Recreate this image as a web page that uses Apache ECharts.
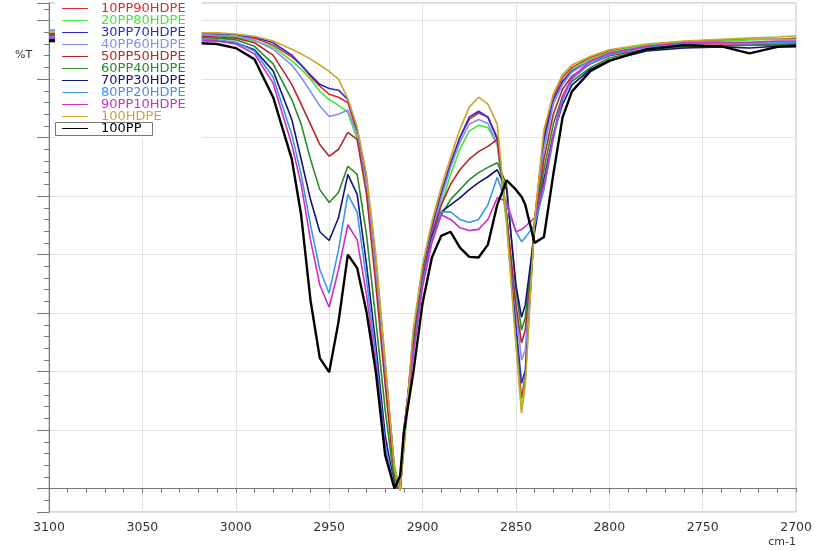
<!DOCTYPE html>
<html>
<head>
    <meta charset="utf-8" />
    <script src="https://cdn.jsdelivr.net/npm/echarts@6/dist/echarts.min.js"></script>
    <style>
        html, body { margin: 0; padding: 0; background: #fff; }
        #main { width: 815px; height: 551px; }
    </style>
</head>
<body>
<div id="main"></div>
<script>
    // wavenumber grid (cm-1) shared by every spectrum
    let wavenumbers = [3100, 3060, 3030, 3010, 3000, 2990, 2980, 2970, 2965, 2960, 2955, 2950, 2945, 2940, 2935, 2930,
        2925, 2920, 2915, 2912, 2910, 2905, 2900, 2895, 2890, 2885, 2880, 2875, 2870, 2865, 2860, 2855,
        2850, 2847, 2845, 2840, 2835, 2830, 2825, 2820, 2810, 2800, 2780, 2760, 2740, 2725, 2710, 2700]

    let names = ['10PP90HDPE', '20PP80HDPE', '30PP70HDPE', '40PP60HDPE', '50PP50HDPE', '60PP40HDPE',
        '70PP30HDPE', '80PP20HDPE', '90PP10HDPE', '100HDPE', '100PP']
    let colors = ['#e8262a', '#3ee83a', '#2a2ad0', '#8c8cf0', '#b42828', '#2a8a2a',
        '#141478', '#3a96f0', '#d02cc8', '#c8a82a', '#000000']

    // %T values
    let pp10 = [78.0, 77.9, 77.9, 77.7, 77.5, 77.0, 75.8, 73.8, 72.4, 70.5, 68.8, 67.4, 66.9, 66.0, 60.9, 52.5,
        38.8, 21.1, 3.1, -0.2, 7.4, 26.6, 37.4, 44.6, 50.6, 55.7, 60.0, 63.1, 64.2, 63.5, 60.0, 46.0,
        26.2, 15.4, 19.4, 46.0, 60.5, 67.1, 70.3, 72.0, 73.7, 74.8, 75.8, 76.4, 76.7, 76.8, 76.8, 77.0]
    let pp20 = [77.9, 77.7, 77.5, 77.4, 77.2, 76.5, 75.5, 73.1, 71.7, 70.0, 67.9, 66.5, 65.5, 64.3, 59.7, 52.0,
        37.4, 20.2, 3.9, -0.3, 6.5, 24.5, 35.7, 42.5, 48.5, 53.7, 58.0, 61.1, 62.1, 61.7, 58.8, 45.1,
        25.4, 13.4, 18.5, 45.1, 58.8, 66.5, 69.6, 71.7, 73.4, 74.6, 75.8, 76.3, 76.5, 76.7, 76.8, 76.8]
    let pp30 = [77.7, 77.7, 77.7, 77.7, 77.5, 77.2, 76.2, 74.1, 72.4, 70.7, 69.1, 68.4, 68.1, 66.5, 61.4, 52.8,
        38.8, 21.1, 2.7, -0.2, 7.4, 26.2, 37.0, 44.3, 50.3, 55.4, 60.0, 63.5, 64.5, 63.5, 59.7, 46.8,
        28.0, 18.0, 20.2, 45.6, 59.7, 66.5, 69.6, 71.4, 73.1, 74.3, 75.5, 76.0, 76.2, 76.2, 76.3, 76.3]
    let pp40 = [78.4, 78.0, 77.7, 77.5, 77.4, 76.7, 75.1, 72.4, 70.3, 67.9, 65.4, 63.6, 64.0, 64.7, 60.5, 52.0,
        37.7, 20.2, 2.2, -0.2, 7.4, 25.7, 36.5, 43.7, 49.7, 54.9, 59.2, 62.3, 63.1, 62.4, 58.8, 46.3,
        30.5, 22.0, 23.7, 45.5, 58.0, 65.7, 69.1, 71.2, 73.1, 74.3, 75.5, 76.0, 76.2, 76.2, 76.3, 76.3]
    let pp50 = [77.5, 77.5, 77.4, 77.2, 77.0, 76.2, 74.1, 69.1, 65.7, 62.3, 58.8, 56.8, 58.0, 60.9, 59.7, 50.3,
        34.8, 17.7, 1.7, 0.0, 8.2, 25.4, 36.0, 43.4, 48.5, 52.0, 54.5, 56.3, 57.6, 58.5, 59.7, 46.8,
        31.4, 24.9, 27.1, 45.1, 56.3, 64.0, 68.3, 70.5, 72.6, 74.0, 75.1, 75.6, 75.8, 75.8, 76.0, 76.0]
    let pp60 = [77.4, 77.4, 77.2, 77.0, 76.7, 75.6, 72.6, 66.5, 62.3, 56.3, 51.1, 48.9, 50.6, 55.1, 53.7, 43.4,
        28.8, 13.4, 1.0, 0.0, 9.1, 24.5, 35.3, 42.5, 46.8, 49.4, 51.1, 52.8, 54.0, 54.9, 55.7, 52.0,
        34.0, 27.1, 29.2, 44.6, 54.5, 62.3, 67.1, 69.6, 72.0, 73.6, 75.0, 75.5, 75.6, 75.8, 75.8, 76.0]
    let pp70 = [76.8, 76.8, 76.7, 76.5, 76.2, 75.0, 71.4, 63.1, 56.3, 49.4, 43.9, 42.4, 46.3, 53.7, 50.3, 38.3,
        24.5, 9.1, 0.3, 0.0, 9.9, 23.7, 35.3, 42.9, 47.3, 48.5, 49.7, 51.1, 52.3, 53.3, 54.5, 51.1,
        34.8, 29.3, 31.4, 43.9, 52.8, 60.5, 65.7, 69.0, 71.7, 73.2, 74.8, 75.3, 75.5, 75.3, 75.6, 75.8]
    let pp80 = [77.2, 77.2, 77.0, 76.7, 76.3, 74.8, 70.3, 60.5, 53.7, 45.1, 37.4, 33.4, 40.8, 50.3, 47.2, 35.7,
        22.8, 7.4, 0.2, 0.5, 9.9, 23.3, 35.2, 42.5, 47.3, 47.3, 46.0, 45.5, 46.0, 48.5, 53.2, 48.5,
        43.9, 42.2, 42.9, 45.1, 51.1, 59.7, 66.5, 70.0, 72.7, 74.1, 75.5, 76.0, 76.2, 76.0, 76.2, 76.3]
    let pp90 = [77.0, 77.0, 76.8, 76.5, 76.0, 74.3, 69.3, 58.8, 52.0, 42.5, 34.8, 31.0, 37.4, 45.1, 42.5, 33.1,
        21.1, 6.2, 0.0, 0.7, 10.3, 22.8, 34.5, 42.0, 46.8, 46.0, 44.6, 44.1, 44.3, 46.0, 49.7, 49.1,
        43.9, 44.3, 44.8, 46.3, 52.0, 60.5, 67.1, 70.3, 73.1, 74.4, 75.6, 76.2, 76.3, 76.3, 76.5, 76.5]
    let hdpe100 = [78.0, 78.0, 77.9, 77.9, 77.7, 77.3, 76.5, 75.1, 74.3, 73.4, 72.4, 71.3, 70.0, 66.6, 61.8, 53.7,
        40.0, 22.0, 3.1, -0.3, 7.4, 27.1, 38.3, 45.6, 51.5, 56.6, 61.4, 65.2, 66.9, 65.7, 62.3, 45.6,
        24.5, 12.9, 17.7, 46.0, 61.4, 67.4, 70.8, 72.4, 73.9, 75.0, 76.0, 76.5, 76.8, 77.0, 77.2, 77.4]
    let pp100 = [76.5, 76.5, 76.3, 76.0, 75.3, 73.4, 66.9, 56.3, 46.8, 32.2, 22.3, 19.9, 28.5, 40.0, 37.7, 30.2,
        19.9, 5.7, 0.0, 2.2, 9.6, 19.7, 31.7, 39.5, 43.2, 43.9, 41.2, 39.6, 39.5, 41.7, 48.5, 52.7,
        51.1, 49.9, 48.5, 42.0, 43.0, 53.7, 63.5, 67.9, 71.4, 73.1, 75.1, 75.8, 75.6, 74.4, 75.5, 75.6]

    let spectra = [pp10, pp20, pp30, pp40, pp50, pp60, pp70, pp80, pp90, hdpe100, pp100]

    let font = 'DejaVu Sans'
    let chart = echarts.init(document.getElementById('main'))

    let series = names.map(function (name, i) {
        return {
            name: name,
            type: 'line',
            xAxisIndex: 0,
            yAxisIndex: 0,
            showSymbol: false,
            symbol: 'none',
            lineStyle: { color: colors[i], width: name === '100PP' ? 2.4 : 1.6 },
            itemStyle: { color: colors[i] },
            data: wavenumbers.map(function (w, k) { return [w, spectra[i][k]] })
        }
    })

    chart.setOption({
        animation: false,
        backgroundColor: '#fff',
        textStyle: { fontFamily: font },
        title: [
            { text: '%T', left: 10, top: 45, textStyle: { fontSize: 11, fontWeight: 'normal', color: '#333', fontFamily: font } },
            { text: 'cm-1', right: 14, top: 532, textStyle: { fontSize: 11, fontWeight: 'normal', color: '#333', fontFamily: font } }
        ],
        grid: {
            left: 49, right: 16, top: 3, bottom: 39,
            show: true, borderColor: '#b0b0b0', borderWidth: 1
        },
        legend: {
            orient: 'vertical',
            left: 55, top: 0,
            padding: [2, 16, 4, 7],
            backgroundColor: '#fff',
            itemGap: -1,
            itemWidth: 26,
            itemHeight: 1,
            icon: 'rect',
            textStyle: { fontFamily: font, fontSize: 13, lineHeight: 12, padding: [0, 0, 0, 8] },
            data: names.map(function (n, i) {
                return { name: n, textStyle: { color: colors[i] } }
            })
        },
        graphic: [
            { type: 'rect', z: 100, shape: { x: 55.5, y: 122.5, width: 97, height: 13 },
              style: { fill: null, stroke: '#777', lineWidth: 1 } }
        ],
        xAxis: {
            type: 'value',
            inverse: true,
            min: 2700, max: 3100, interval: 50,
            axisLine: { lineStyle: { color: '#777' } },
            axisTick: { length: 4, lineStyle: { color: '#777' } },
            minorTick: { show: true, splitNumber: 5, length: 4, lineStyle: { color: '#777' } },
            axisLabel: { fontFamily: font, fontSize: 12.5, color: '#333', margin: 9,
                formatter: function (v) { return String(v) } },
            splitLine: { lineStyle: { color: '#e3e3e3' } }
        },
        yAxis: [
            {
                type: 'value', min: -4, max: 83, interval: 2,
                axisLine: { show: true, lineStyle: { color: '#777' } },
                axisTick: { show: true, length: 5, lineStyle: { color: '#777' } },
                axisLabel: { show: false },
                splitLine: { show: false }
            },
            {
                type: 'value', min: -4, max: 83, splitNumber: 9, position: 'left',
                axisLine: { show: false },
                axisTick: { show: true, length: 12, lineStyle: { color: '#777' } },
                axisLabel: { show: false },
                splitLine: { show: true, lineStyle: { color: '#e3e3e3' } }
            }
        ],
        series: series
    })
</script>
</body>
</html>
